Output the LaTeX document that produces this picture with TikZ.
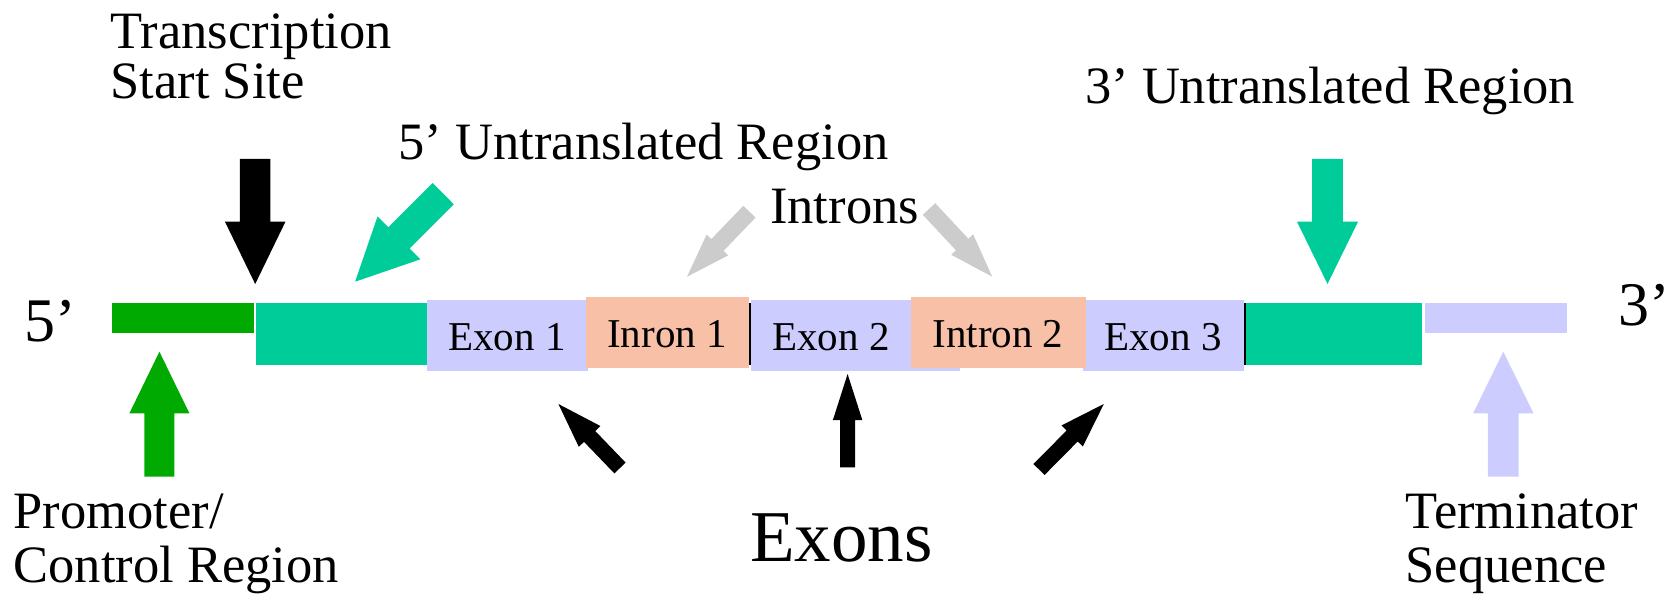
\documentclass[tikz,border=0pt]{standalone}
\usepackage{fontspec}
\setmainfont{Liberation Serif}
\usetikzlibrary{calc}
\definecolor{utrcol}{RGB}{0,204,153}
\definecolor{promcol}{RGB}{0,170,0}
\definecolor{exoncol}{RGB}{204,204,255}
\definecolor{introncol}{RGB}{248,192,166}
\definecolor{graycol}{RGB}{204,204,204}
\tikzset{
  lbl/.style={font=\fontsize{52.5}{60}\selectfont, inner sep=0pt, anchor=base west},
  biglbl/.style={font=\fontsize{73}{80}\selectfont, inner sep=0pt, anchor=base west},
  endlbl/.style={font=\fontsize{62}{70}\selectfont, inner sep=0pt, anchor=base west},
  boxlbl/.style={font=\fontsize{41}{48}\selectfont, inner sep=0pt, anchor=base},
  seg/.style={draw=none, inner sep=0pt, outer sep=0pt, anchor=north west},
}
% block arrow: color, tail, tip, half shaft width, half head width, head length
\newcommand\blockarrow[6]{%
  \coordinate (#2-base) at ($(#3)!#6pt!(#2)$);
  \fill[#1] ($(#2)!#4pt!90:(#3)$) -- ($(#2-base)!#4pt!90:(#3)$) -- ($(#2-base)!#5pt!90:(#3)$) -- (#3)
    -- ($(#2-base)!#5pt!-90:(#3)$) -- ($(#2-base)!#4pt!-90:(#3)$) -- ($(#2)!#4pt!-90:(#3)$) -- cycle;
}
\begin{document}
\begin{tikzpicture}[x=1pt,y=-1pt]
\useasboundingbox (0,0) rectangle (1677,601);
% gene segments
\node[seg, fill=promcol, minimum width=142pt, minimum height=29.7pt] (prom) at (112,303) {};
\node[seg, fill=utrcol, minimum width=171pt, minimum height=62pt] (utr5) at (256,303) {};
\node[seg, fill=exoncol, minimum width=161pt, minimum height=71pt] (ex1) at (427,300) {};
\node[seg, fill=exoncol, minimum width=209pt, minimum height=71pt] (ex2) at (751,300) {};
\node[seg, fill=exoncol, minimum width=160.5pt, minimum height=71pt] (ex3) at (1083,300) {};
\node[seg, fill=introncol, minimum width=163pt, minimum height=71pt] (in1) at (586,297) {};
\node[seg, fill=introncol, minimum width=175pt, minimum height=71pt] (in2) at (910.5,297) {};
\node[seg, fill=utrcol, minimum width=175.6pt, minimum height=62pt] (utr3) at (1246,303) {};
\node[seg, fill=exoncol, minimum width=142pt, minimum height=29.7pt] (term) at (1425,303) {};
\node[seg, fill=black, minimum width=2pt, minimum height=61.5pt] (sep1) at (748.8,303) {};
\node[seg, fill=black, minimum width=2pt, minimum height=61.5pt] (sep2) at (1243.8,303) {};
% segment labels
\node[boxlbl] (ex1t) at (507,350) {Exon 1};
\node[boxlbl] (in1t) at (667,347.5) {Inron 1};
\node[boxlbl] (ex2t) at (831,350) {Exon 2};
\node[boxlbl] (in2t) at (998,347.5) {Intron 2};
\node[boxlbl] (ex3t) at (1163,350) {Exon 3};
% arrow coordinates
\coordinate (tssT) at (255.2,159);   \coordinate (tssH) at (255.2,284);
\coordinate (utrfT) at (443.2,193.7); \coordinate (utrfH) at (355.1,281.7);
\coordinate (utrtT) at (1327.5,159);  \coordinate (utrtH) at (1327.5,284);
\coordinate (promT) at (159.4,476.5); \coordinate (promH) at (159.4,351.7);
\coordinate (termT) at (1503.3,476.5); \coordinate (termH) at (1503.3,351.7);
\coordinate (intlT) at (749.4,211.7); \coordinate (intlH) at (687,276.7);
\coordinate (intrT) at (929,209);     \coordinate (intrH) at (992.2,276.7);
\coordinate (exlT) at (620,468);      \coordinate (exlH) at (558.4,404);
\coordinate (exmT) at (847.6,467.3);  \coordinate (exmH) at (847.6,374);
\coordinate (exrT) at (1039,469.5);   \coordinate (exrH) at (1103.8,404);
% arrows
\blockarrow{black}{tssT}{tssH}{15.25}{30.25}{62.3}
\blockarrow{utrcol}{utrfT}{utrfH}{15}{30.3}{62}
\blockarrow{utrcol}{utrtT}{utrtH}{15.3}{30.5}{62.3}
\blockarrow{promcol}{promT}{promH}{15}{30}{61.6}
\blockarrow{exoncol}{termT}{termH}{15.4}{30.2}{61.6}
\blockarrow{graycol}{intlT}{intlH}{8.5}{15}{44}
\blockarrow{graycol}{intrT}{intrH}{8.5}{15}{44}
\blockarrow{black}{exlT}{exlH}{7.8}{15}{45}
\blockarrow{black}{exmT}{exmH}{7.6}{14.7}{46}
\blockarrow{black}{exrT}{exrH}{7.8}{15}{45}
% labels
\node[lbl] (tss1) at (110.5,48.3) {Transcription};
\node[lbl] (tss2) at (110.5,98.3) {Start Site};
\node[lbl] (utr5lbl) at (398.5,160) {5’ Untranslated Region};
\node[lbl] (intlbl) at (770,223.3) {Introns};
\node[lbl] (utr3lbl) at (1085,103.3) {3’ Untranslated Region};
\node[endlbl] (five) at (24,341.7) {5’};
\node[endlbl] (three) at (1618.5,325) {3’};
\node[lbl] (prom1) at (13.5,528.3) {Promoter/};
\node[lbl] (prom2) at (13.5,582.7) {Control Region};
\node[biglbl] (exlbl) at (750,561) {Exons};
\node[lbl] (term1) at (1405.5,528.3) {Terminator};
\node[lbl] (term2) at (1405.5,582) {Sequence};
\end{tikzpicture}
\end{document}
